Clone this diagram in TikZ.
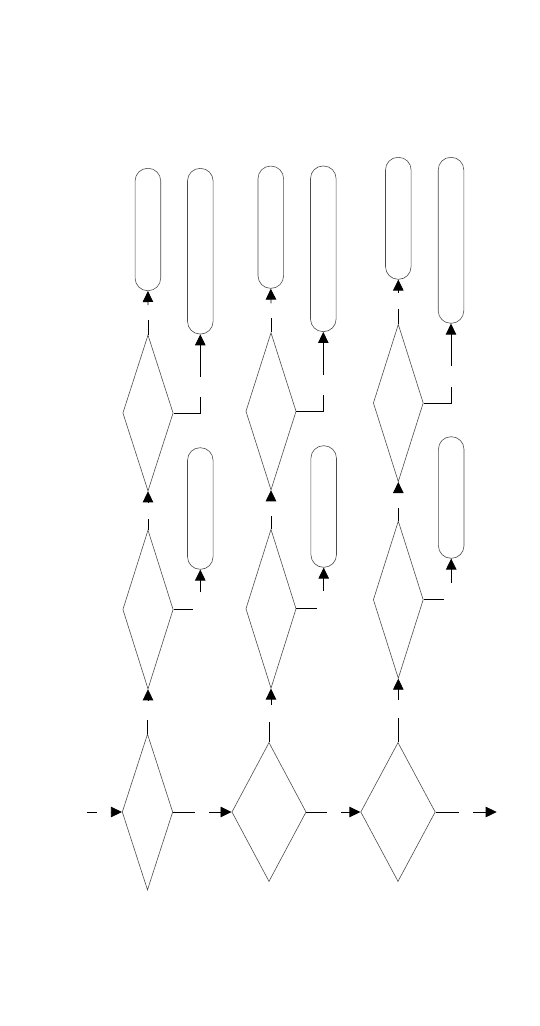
\documentclass[tikz,border=0pt]{standalone}
\usetikzlibrary{shapes.geometric,arrows.meta}
\begin{document}
\begin{tikzpicture}[x=1pt,y=-1pt,
  dec/.style={shape=diamond,draw=black!70,line width=0.6pt,inner sep=0pt,minimum width=#1},
  pill/.style={shape=rectangle,draw=black!70,line width=0.6pt,inner sep=0pt,rounded corners=12.6pt,minimum width=25.6pt},
  conn/.style={draw=black,line width=0.8pt},
  arr/.style={conn,-{Triangle[length=11pt,width=10.5pt]}}]
\useasboundingbox (0,0) rectangle (540,1026);
% diamonds
\node[dec=50.6pt,minimum height=156pt] (D1) at (147.5,812) {};
\node[dec=50.4pt,minimum height=159pt] (D2) at (148,609.5) {};
\node[dec=50.4pt,minimum height=156pt] (D3) at (148,413) {};
\node[dec=74.3pt,minimum height=139pt] (D4) at (269,812) {};
\node[dec=50.3pt,minimum height=159pt] (D5) at (271,608.8) {};
\node[dec=50.3pt,minimum height=157.3pt] (D6) at (271,411.3) {};
\node[dec=74.6pt,minimum height=139pt] (D7) at (398,812) {};
\node[dec=50pt,minimum height=157.3pt] (D8) at (398.3,599.7) {};
\node[dec=50pt,minimum height=157.4pt] (D9) at (398.3,403) {};
% pills
\node[pill,minimum height=122.4pt] (R1) at (147.9,229.5) {};
\node[pill,minimum height=121.6pt] (R2) at (200.3,508.5) {};
\node[pill,minimum height=165.7pt] (R3) at (200.3,251.2) {};
\node[pill,minimum height=122.3pt] (R4) at (270.8,227.2) {};
\node[pill,minimum height=165.7pt] (R5) at (323.3,248.8) {};
\node[pill,minimum height=121.6pt] (R6) at (323.7,506.5) {};
\node[pill,minimum height=122pt] (R7) at (398.3,218.3) {};
\node[pill,minimum height=166pt] (R8) at (451,240.3) {};
\node[pill,minimum height=121.6pt] (R9) at (451.2,497.5) {};
% free ends
\coordinate (i0a) at (86.7,812); \coordinate (i0b) at (96.7,812); \coordinate (i0c) at (110.5,812);
\coordinate (h1a) at (195,812);  \coordinate (h1b) at (209,812);
\coordinate (h2a) at (326.7,812);\coordinate (h2b) at (341,812);
\coordinate (h3a) at (459,812);  \coordinate (h3b) at (473.3,812); \coordinate (h3c) at (496.7,812);
% column 1
\coordinate (v11a) at (147.5,720); \coordinate (v11b) at (148,701);
\coordinate (v12a) at (148,519.3); \coordinate (v12b) at (148,503);
\coordinate (v13a) at (148,320);   \coordinate (v13b) at (148,305);
\coordinate (s12a) at (193.3,609.5); \coordinate (s12b) at (200.3,592.3);
\coordinate (s13a) at (200.3,413); \coordinate (s13b) at (200.3,396.7); \coordinate (s13c) at (200.3,376.7);
% column 2
\coordinate (v21a) at (269,721.7); \coordinate (v21b) at (271,705);
\coordinate (v22a) at (271,516);   \coordinate (v22b) at (271,500);
\coordinate (v23a) at (271,318.3); \coordinate (v23b) at (271,303.3);
\coordinate (s22a) at (316.7,608.8); \coordinate (s22b) at (323.7,590.7);
\coordinate (s23a) at (323.3,411.3); \coordinate (s23b) at (323.3,395); \coordinate (s23c) at (323.3,375);
% column 3
\coordinate (v31a) at (398,717.7); \coordinate (v31b) at (398.3,700);
\coordinate (v32a) at (398.3,508.3); \coordinate (v32b) at (398.3,492);
\coordinate (v33a) at (398.3,309); \coordinate (v33b) at (398.3,293.3);
\coordinate (s32a) at (444,599.7); \coordinate (s32b) at (451.2,582.7);
\coordinate (s33a) at (451,403); \coordinate (s33b) at (451,386.7); \coordinate (s33c) at (451,366);
% horizontal flow
\draw[conn] (i0a) -- (i0b);
\draw[arr] (i0c) -- (D1.west);
\draw[conn] (D1.east) -- (h1a);
\draw[arr] (h1b) -- (D4.west);
\draw[conn] (D4.east) -- (h2a);
\draw[arr] (h2b) -- (D7.west);
\draw[conn] (D7.east) -- (h3a);
\draw[arr] (h3b) -- (h3c);
% column 1
\draw[conn] (D1.north) -- (v11a); \draw[arr] (v11b) -- (D2.south);
\draw[conn] (D2.north) -- (v12a); \draw[arr] (v12b) -- (D3.south);
\draw[conn] (D3.north) -- (v13a); \draw[arr] (v13b) -- (R1.south);
\draw[conn] (D2.east) -- (s12a);  \draw[arr] (s12b) -- (R2.south);
\draw[conn] (D3.east) -- (s13a) -- (s13b); \draw[arr] (s13c) -- (R3.south);
% column 2
\draw[conn] (D4.north) -- (v21a); \draw[arr] (v21b) -- (D5.south);
\draw[conn] (D5.north) -- (v22a); \draw[arr] (v22b) -- (D6.south);
\draw[conn] (D6.north) -- (v23a); \draw[arr] (v23b) -- (R4.south);
\draw[conn] (D5.east) -- (s22a);  \draw[arr] (s22b) -- (R6.south);
\draw[conn] (D6.east) -- (s23a) -- (s23b); \draw[arr] (s23c) -- (R5.south);
% column 3
\draw[conn] (D7.north) -- (v31a); \draw[arr] (v31b) -- (D8.south);
\draw[conn] (D8.north) -- (v32a); \draw[arr] (v32b) -- (D9.south);
\draw[conn] (D9.north) -- (v33a); \draw[arr] (v33b) -- (R7.south);
\draw[conn] (D8.east) -- (s32a);  \draw[arr] (s32b) -- (R9.south);
\draw[conn] (D9.east) -- (s33a) -- (s33b); \draw[arr] (s33c) -- (R8.south);
\end{tikzpicture}
\end{document}
